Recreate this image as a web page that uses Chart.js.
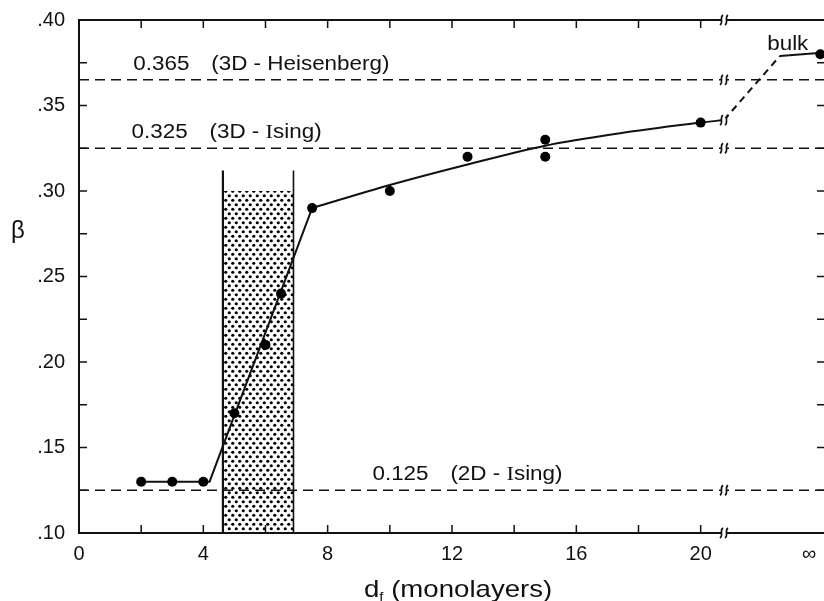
<!DOCTYPE html>
<html>
<head>
<meta charset="utf-8">
<script src="https://cdn.jsdelivr.net/npm/chart.js@4.4.1/dist/chart.umd.min.js"></script>
<style>
  html, body { margin: 0; padding: 0; background: #fff; overflow: hidden; }
  #wrap { width: 830px; height: 601px; }
  canvas { background: #fff; }
</style>
</head>
<body>
<div id="wrap"><canvas id="betaChart" width="830" height="601"></canvas></div>
<script>
// measured exponent vs film thickness
const filmThickness = [2, 3, 4, 5, 6, 6.5, 7.5, 10, 12.5, 15, 15, 20];
const betaValues = [0.13, 0.13, 0.13, 0.17, 0.21, 0.24, 0.29, 0.30, 0.32, 0.33, 0.32, 0.34];
const INF_X = 23.85;          // bulk sits past the axis break
const bulkBeta = 0.38;
const BREAK_X = 20.75;

// guide curve
const fitLowX = [2, 4, 4.2, 7.5];
const fitLowY = [0.13, 0.13, 0.13, 0.29];
const fitHighX = [7.5, 10, 12.5, 15, 17.5, 20, 20.75];
const fitHighY = [0.29, 0.3035, 0.3155, 0.3265, 0.334, 0.34, 0.3415];
const bulkLinkX = [20.75, 22.55];
const bulkLinkY = [0.3415, 0.379];
const bulkFlatX = [22.55, 24];
const bulkFlatY = [0.379, 0.381];

// universality classes
const refValues = [0.365, 0.325, 0.125];
const refNames = ['(3D - Heisenberg)', '(3D - Ising)', '(2D - Ising)'];

// crossover band
const bandX = [4.63, 6.9];
const bandTop = 0.30;
const bandEdgeTop = 0.312;

const xTickValues = [0, 4, 8, 12, 16, 20, 23.49];
const xTickLabels = ['0', '4', '8', '12', '16', '20', '\u221E'];
const xMinorTicks = [2, 4, 6, 8, 10, 12, 14, 16, 18, 20];
const yTickValues = [0.10, 0.15, 0.20, 0.25, 0.30, 0.35, 0.40];
const yTickLabels = ['.10', '.15', '.20', '.25', '.30', '.35', '.40'];
const yMinorTicks = [0.125, 0.15, 0.175, 0.2, 0.225, 0.25, 0.275, 0.3, 0.325, 0.35, 0.375];

const SANS = "'Liberation Sans', Arial, sans-serif";
const SERIF = "'Liberation Serif', 'Times New Roman', serif";
const INK = '#111';
const STRETCH = 1.15;

const pts = (xs, ys) => xs.map((v, i) => ({ x: v, y: ys[i] }));

function stipple() {
  const c = document.createElement('canvas');
  c.width = 7; c.height = 9;
  const g = c.getContext('2d');
  g.fillStyle = '#000';
  [[1.75, 2.25], [5.25, 6.75]].forEach(([cx, cy]) => { g.beginPath(); g.arc(cx, cy, 1.6, 0, Math.PI * 2); g.fill(); });
  return document.getElementById('betaChart').getContext('2d').createPattern(c, 'repeat');
}

function drawBreak(ctx, px, py) {
  ctx.save();
  ctx.fillStyle = '#fff';
  ctx.fillRect(px - 2, py - 2, 4, 4);
  ctx.strokeStyle = INK;
  ctx.lineWidth = 1.6;
  ctx.beginPath();
  [-2.5, 2.5].forEach(d => {
    ctx.moveTo(px + d + 1.5, py - 5);
    ctx.bezierCurveTo(px + d - 2.5, py - 2, px + d + 2.5, py + 2, px + d - 1.5, py + 5);
  });
  ctx.stroke();
  ctx.restore();
}

// draws text pieces one after another, widened a little
function drawRun(ctx, parts, x0, y0) {
  ctx.save();
  ctx.translate(x0, y0);
  ctx.scale(STRETCH, 1);
  ctx.fillStyle = INK;
  ctx.textBaseline = 'alphabetic';
  let cx = 0;
  parts.forEach(p => {
    ctx.font = p.font;
    ctx.fillText(p.text, cx, p.dy || 0);
    cx += ctx.measureText(p.text).width + (p.gap || 0);
  });
  ctx.restore();
}

// the capital I of "Ising" is set in a serif face
function nameParts(name, size) {
  const out = [];
  name.split('I').forEach((s, i) => {
    if (i > 0) out.push({ text: 'I', font: `${size}px ${SERIF}` });
    if (s) out.push({ text: s, font: `${size}px ${SANS}` });
  });
  return out;
}

const refLabelX = [1.745, 1.69, 9.44];

const decor = {
  id: 'decor',
  afterDatasetsDraw(chart) {
    const { ctx, chartArea: a, scales: { x, y } } = chart;
    ctx.save();
    ctx.strokeStyle = INK;
    ctx.lineWidth = 2;
    ctx.strokeRect(a.left, a.top, a.right - a.left, a.bottom - a.top);

    ctx.lineWidth = 1.5;
    ctx.beginPath();
    xMinorTicks.forEach(v => {
      const px = x.getPixelForValue(v);
      ctx.moveTo(px, a.bottom); ctx.lineTo(px, a.bottom - 8);
      ctx.moveTo(px, a.top); ctx.lineTo(px, a.top + 8);
    });
    yMinorTicks.forEach(v => {
      const py = y.getPixelForValue(v);
      ctx.moveTo(a.left, py); ctx.lineTo(a.left + 8, py);
      ctx.moveTo(a.right, py); ctx.lineTo(a.right - 8, py);
    });
    ctx.stroke();

    const bx = x.getPixelForValue(BREAK_X);
    [0.40, 0.10, ...refValues, fitHighY[fitHighY.length - 1]].forEach(v => drawBreak(ctx, bx, y.getPixelForValue(v)));

    // reference line captions
    refValues.forEach((v, i) => {
      const px = x.getPixelForValue(refLabelX[i]);
      const py = y.getPixelForValue(v) - 10;
      drawRun(ctx, [{ text: v.toFixed(3), font: `19.5px ${SANS}`, gap: 19 }, ...nameParts(refNames[i], 19.5)], px, py);
    });
    drawRun(ctx, [{ text: 'bulk', font: `19.5px ${SANS}` }], x.getPixelForValue(22.14), y.getPixelForValue(0.3825));

    // axis titles
    drawRun(ctx, [
      { text: 'd', font: `24px ${SANS}` },
      { text: 'f', font: `13px ${SANS}`, dy: 4, gap: 0 },
      { text: ' (monolayers)', font: `24px ${SANS}` }
    ], a.left + 285, 597);
    ctx.fillStyle = INK;
    ctx.font = `24px ${SANS}`;
    ctx.textAlign = 'center';
    ctx.fillText('\u03B2', 18, 238);
    ctx.restore();
  }
};

const lineBase = { showLine: true, pointRadius: 0, borderColor: INK, fill: false };

new Chart(document.getElementById('betaChart'), {
  type: 'scatter',
  data: {
    datasets: [
      { data: pts(filmThickness, betaValues), pointRadius: 5, pointBackgroundColor: '#000', pointBorderWidth: 0, showLine: false },
      { data: [{ x: INF_X, y: bulkBeta }], pointRadius: 5, pointBackgroundColor: '#000', pointBorderWidth: 0, showLine: false },
      { ...lineBase, data: pts(fitLowX, fitLowY), borderWidth: 2 },
      { ...lineBase, data: pts(fitHighX, fitHighY), borderWidth: 2, cubicInterpolationMode: 'monotone' },
      { ...lineBase, data: pts(bulkLinkX, bulkLinkY), borderWidth: 2, borderDash: [7, 5] },
      { ...lineBase, data: pts(bulkFlatX, bulkFlatY), borderWidth: 2 },
      ...refValues.map(v => ({ ...lineBase, data: [{ x: 0, y: v }, { x: 24, y: v }], borderWidth: 1.5, borderDash: [10, 6] })),
      { ...lineBase, data: [{ x: bandX[0], y: 0.10 }, { x: bandX[0], y: bandEdgeTop }], borderWidth: 2.2 },
      { ...lineBase, data: [{ x: bandX[1], y: 0.10 }, { x: bandX[1], y: bandEdgeTop }], borderWidth: 1.6 },
      { showLine: true, pointRadius: 0, borderWidth: 0, data: [{ x: bandX[0], y: bandTop }, { x: bandX[1], y: bandTop }], fill: 'start', backgroundColor: stipple() }
    ]
  },
  options: {
    responsive: false,
    animation: false,
    devicePixelRatio: 1,
    layout: { padding: { top: 20, right: 4, left: 0, bottom: 0 } },
    plugins: { legend: { display: false }, tooltip: { enabled: false } },
    scales: {
      x: {
        type: 'linear', min: 0, max: 24,
        grid: { display: false }, border: { display: false },
        afterBuildTicks: s => { s.ticks = xTickValues.map(v => ({ value: v })); },
        afterFit: s => { s.height = 68; },
        ticks: { autoSkip: false, maxRotation: 0, padding: 1, color: INK, font: { family: SANS, size: 20 }, callback: (v, i) => xTickLabels[i] }
      },
      y: {
        type: 'linear', min: 0.10, max: 0.40,
        grid: { display: false }, border: { display: false },
        afterBuildTicks: s => { s.ticks = yTickValues.map(v => ({ value: v })); },
        afterFit: s => { s.width = 79; },
        ticks: { autoSkip: false, padding: 6, color: INK, font: { family: SANS, size: 20 }, callback: (v, i) => yTickLabels[i] }
      }
    }
  },
  plugins: [decor]
});
</script>
</body>
</html>
